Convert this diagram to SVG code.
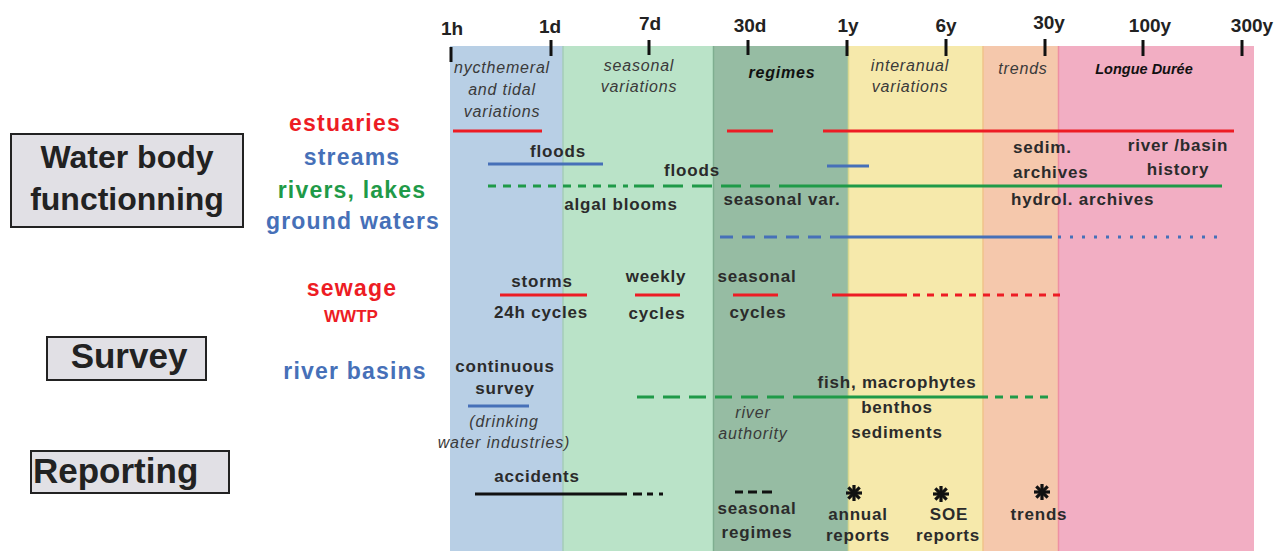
<svg xmlns="http://www.w3.org/2000/svg" width="1274" height="551" viewBox="0 0 1274 551">
<style>
.tick{stroke:#111;stroke-width:3}
.tl{font-family:"Liberation Sans",Arial,sans-serif;font-weight:bold;font-size:19px;fill:#222;text-anchor:middle}
.hd{font-family:"Liberation Sans",Arial,sans-serif;font-style:italic;font-size:16px;letter-spacing:0.8px;fill:#3a3a3a;text-anchor:middle}
.hdb{font-family:"Liberation Sans",Arial,sans-serif;font-style:italic;font-weight:bold;fill:#111;text-anchor:middle}
.box{fill:#e1e0e5;stroke:#222;stroke-width:2}
.bt{font-family:"Liberation Sans",Arial,sans-serif;font-weight:bold;fill:#222}
.ser{font-family:"Liberation Sans",Arial,sans-serif;font-weight:bold;font-size:23px;letter-spacing:1.2px;text-anchor:middle}
.lb{font-family:"Liberation Sans",Arial,sans-serif;font-weight:bold;font-size:17px;letter-spacing:0.8px;fill:#2b2b2b;text-anchor:middle}
.st{text-anchor:start}
.it{font-family:"Liberation Sans",Arial,sans-serif;font-style:italic;font-size:16px;letter-spacing:0.9px;fill:#3a3a3a;text-anchor:middle}
.red{fill:#ed1c24}.blue{fill:#4670b8}.green{fill:#1f9a48}
.lr{stroke:#ed1c24;stroke-width:3;fill:none}
.lbl{stroke:#4670b8;stroke-width:3;fill:none}
.lg{stroke:#1f9a48;stroke-width:3;fill:none}
.lk{stroke:#111;stroke-width:3;fill:none}
.ast{stroke:#111;stroke-width:3.2}
</style>
<rect width="1274" height="551" fill="#ffffff"/>
<g id="bands">
<rect x="450" y="46" width="113" height="505" fill="#b8cfe5"/>
<rect x="563" y="46" width="150" height="505" fill="#bae3c8"/>
<rect x="713" y="46" width="135" height="505" fill="#96bca3"/>
<rect x="848" y="46" width="135" height="505" fill="#f6e9ab"/>
<rect x="983" y="46" width="75" height="505" fill="#f5c8ac"/>
<rect x="1058" y="46" width="196" height="505" fill="#f2aec3"/>
<line x1="563" y1="46" x2="563" y2="551" stroke="#a5cdb8" stroke-width="1.5"/>
<line x1="713.5" y1="46" x2="713.5" y2="551" stroke="#7fae90" stroke-width="1.5"/>
<line x1="848.5" y1="46" x2="848.5" y2="551" stroke="#d9d98f" stroke-width="1.5"/>
<line x1="983" y1="46" x2="983" y2="551" stroke="#efc38a" stroke-width="1.5"/>
<line x1="1058.5" y1="46" x2="1058.5" y2="551" stroke="#ee8fa3" stroke-width="1.5"/>
</g>
<g id="axis">
<line class="tick" x1="451" y1="47" x2="451" y2="62"/>
<line class="tick" x1="551" y1="40" x2="551" y2="56"/>
<line class="tick" x1="649" y1="40" x2="649" y2="55"/>
<line class="tick" x1="748" y1="40" x2="748" y2="55"/>
<line class="tick" x1="847" y1="40" x2="847" y2="56"/>
<line class="tick" x1="946" y1="39" x2="946" y2="56"/>
<line class="tick" x1="1045" y1="39" x2="1045" y2="56"/>
<line class="tick" x1="1143" y1="40" x2="1143" y2="56"/>
<line class="tick" x1="1242" y1="40" x2="1242" y2="56"/>
<text class="tl" x="452" y="35">1h</text>
<text class="tl" x="550" y="33">1d</text>
<text class="tl" x="650" y="30">7d</text>
<text class="tl" x="750" y="32">30d</text>
<text class="tl" x="848" y="32">1y</text>
<text class="tl" x="946" y="32">6y</text>
<text class="tl" x="1049" y="29">30y</text>
<text class="tl" x="1150" y="32">100y</text>
<text class="tl" x="1252" y="32">300y</text>
</g>
<g id="headings">
<text class="hd" x="502" y="73">nycthemeral</text>
<text class="hd" x="502" y="95">and tidal</text>
<text class="hd" x="502" y="117">variations</text>
<text class="hd" x="639" y="71">seasonal</text>
<text class="hd" x="639" y="92">variations</text>
<text class="hdb" x="782" y="78" font-size="16" letter-spacing="0.8">regimes</text>
<text class="hd" x="910" y="71">interanual</text>
<text class="hd" x="910" y="92">variations</text>
<text class="hd" x="1023" y="74">trends</text>
<text class="hdb" x="1144" y="74" font-size="14.5">Longue Durée</text>
</g>
<g id="connectors">
<path class="lr" d="M453 131H542M727 131H773M823 131H1234"/>
<path class="lbl" d="M488 164H603M827 166H869"/>
<path class="lg" d="M488 186H628" stroke-dasharray="8 7"/>
<path class="lg" d="M634 186H790" stroke-dasharray="20 9"/>
<path class="lg" d="M790 186H1222"/>
<path class="lbl" d="M720 237H836" stroke-dasharray="13 9"/>
<path class="lbl" d="M836 237H1052"/>
<path class="lbl" d="M1058 237H1226" stroke-dasharray="3 9"/>
<path class="lr" d="M500 295H587M635 295H680M733 295H778M832 295H907"/>
<path class="lr" d="M913 295H1060" stroke-dasharray="7 7"/>
<path class="lbl" d="M468 406H529"/>
<path class="lg" d="M637 397H793" stroke-dasharray="17 9"/>
<path class="lg" d="M793 397H988"/>
<path class="lg" d="M995 397H1053" stroke-dasharray="8 7"/>
<path class="lk" d="M475 494H627M633 494H642M647 494H653M659 494H663"/>
<path class="lk" d="M735 492H743M748 492H757M762 492H772"/>
</g>
<g id="box-water-body">
<rect class="box" x="11" y="134" width="232" height="93"/>
<text class="bt" x="127" y="168" font-size="32" text-anchor="middle">Water body</text>
<text class="bt" x="127" y="210" font-size="32" text-anchor="middle">functionning</text>
</g>
<g id="box-survey">
<rect class="box" x="47" y="337" width="159" height="43"/>
<text class="bt" x="129" y="368" font-size="35" text-anchor="middle">Survey</text>
</g>
<g id="box-reporting">
<rect class="box" x="31" y="451" width="198" height="42"/>
<text class="bt" x="33" y="483" font-size="35">Reporting</text>
</g>
<g id="label-estuaries"><text class="ser red" x="345" y="131">estuaries</text></g>
<g id="label-streams"><text class="ser blue" x="352" y="165">streams</text></g>
<g id="label-rivers-lakes"><text class="ser green" x="352" y="198">rivers, lakes</text></g>
<g id="label-ground-waters"><text class="ser blue" x="353" y="229">ground waters</text></g>
<g id="label-sewage">
<text class="ser red" x="352" y="296">sewage</text>
<text class="red" x="351" y="322" font-family="Liberation Sans, Arial, sans-serif" font-weight="bold" font-size="17" text-anchor="middle">WWTP</text>
</g>
<g id="label-river-basins"><text class="ser blue" x="355" y="379">river basins</text></g>
<g id="notes-water">
<text class="lb" x="558" y="157">floods</text>
<text class="lb" x="692" y="176">floods</text>
<text class="lb" x="621" y="210">algal blooms</text>
<text class="lb" x="782" y="205">seasonal var.</text>
<text class="lb st" x="1013" y="153">sedim.</text>
<text class="lb st" x="1013" y="178">archives</text>
<text class="lb" x="1178" y="151">river /basin</text>
<text class="lb" x="1178" y="175">history</text>
<text class="lb st" x="1011" y="205">hydrol. archives</text>
</g>
<g id="notes-sewage">
<text class="lb" x="542" y="287">storms</text>
<text class="lb" x="541" y="318" letter-spacing="0.4">24h cycles</text>
<text class="lb" x="656" y="282">weekly</text>
<text class="lb" x="657" y="319">cycles</text>
<text class="lb" x="757" y="282">seasonal</text>
<text class="lb" x="758" y="318">cycles</text>
</g>
<g id="notes-survey">
<text class="lb" x="505" y="372">continuous</text>
<text class="lb" x="505" y="394">survey</text>
<text class="it" x="504" y="427">(drinking</text>
<text class="it" x="504" y="448">water industries)</text>
<text class="it" x="753" y="418">river</text>
<text class="it" x="753" y="439">authority</text>
<text class="lb" x="897" y="388">fish, macrophytes</text>
<text class="lb" x="897" y="413">benthos</text>
<text class="lb" x="897" y="438">sediments</text>
</g>
<g id="notes-reporting">
<text class="lb" x="537" y="482">accidents</text>
<text class="lb" x="757" y="514">seasonal</text>
<text class="lb" x="757" y="538">regimes</text>
<g class="ast" transform="translate(854 493)"><line x1="-8" y1="0" x2="8" y2="0"/><line x1="0" y1="-8" x2="0" y2="8"/><line x1="-5.7" y1="-5.7" x2="5.7" y2="5.7"/><line x1="-5.7" y1="5.7" x2="5.7" y2="-5.7"/></g>
<g class="ast" transform="translate(941 494)"><line x1="-8" y1="0" x2="8" y2="0"/><line x1="0" y1="-8" x2="0" y2="8"/><line x1="-5.7" y1="-5.7" x2="5.7" y2="5.7"/><line x1="-5.7" y1="5.7" x2="5.7" y2="-5.7"/></g>
<g class="ast" transform="translate(1042 492)"><line x1="-8" y1="0" x2="8" y2="0"/><line x1="0" y1="-8" x2="0" y2="8"/><line x1="-5.7" y1="-5.7" x2="5.7" y2="5.7"/><line x1="-5.7" y1="5.7" x2="5.7" y2="-5.7"/></g>
<text class="lb" x="858" y="520">annual</text>
<text class="lb" x="858" y="541">reports</text>
<text class="lb" x="949" y="520">SOE</text>
<text class="lb" x="948" y="541">reports</text>
<text class="lb" x="1039" y="520">trends</text>
</g>
</svg>
